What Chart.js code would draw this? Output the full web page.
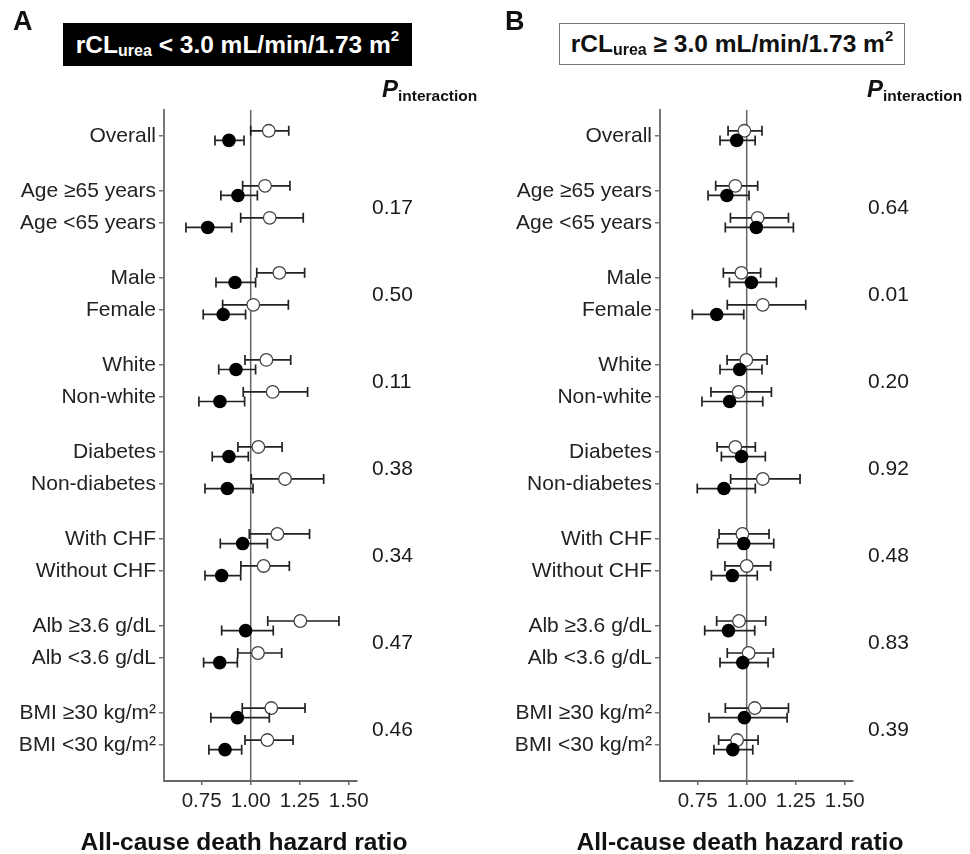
<!DOCTYPE html>
<html>
<head>
<meta charset="utf-8">
<script src="https://cdn.jsdelivr.net/npm/chart.js@4.4.1/dist/chart.umd.min.js"></script>
<style>
  html, body { margin:0; padding:0; background:#fff; }
  body { width:970px; height:854px; position:relative; overflow:hidden; font-family:"Liberation Sans", Arial, sans-serif; color:#111; }
  canvas { position:absolute; top:0; }
  .abs { position:absolute; white-space:nowrap; }
  .panel { font-weight:bold; font-size:27px; line-height:27px; }
  .box { position:absolute; display:flex; align-items:center; justify-content:center; font-weight:bold; font-size:24.5px; box-sizing:border-box; }
  .box sub { font-size:16px; vertical-align:baseline; position:relative; top:6px; }
  .box sup { font-size:15px; vertical-align:baseline; position:relative; top:-9px; }
  .pint { font-weight:bold; font-size:24px; line-height:24px; color:#111; }
  .pint i { font-style:italic; }
  .pint span { font-size:15.5px; position:relative; top:4px; }
  .xt { font-weight:bold; font-size:24.5px; line-height:24px; text-align:center; width:360px; color:#111; }
</style>
</head>
<body>
<canvas id="cA" width="474" height="854" style="left:0"></canvas>
<canvas id="cB" width="474" height="854" style="left:496px"></canvas>

<div class="abs panel" style="left:13px; top:8px;">A</div>
<div class="abs panel" style="left:505px; top:8px;">B</div>
<div class="box" style="left:63px; top:23px; width:349px; height:43px; background:#000; color:#fff;">rCL<sub>urea</sub>&nbsp;&lt; 3.0 mL/min/1.73 m<sup>2</sup></div>
<div class="box" style="left:559px; top:23px; width:346px; height:42px; background:#fff; color:#111; border:1.5px solid #777;">rCL<sub>urea</sub>&nbsp;≥ 3.0 mL/min/1.73 m<sup>2</sup></div>
<div class="abs pint" style="left:382px; top:77px;"><i>P</i><span>interaction</span></div>
<div class="abs pint" style="left:867px; top:77px;"><i>P</i><span>interaction</span></div>
<div class="abs xt" style="left:64px; top:830px;">All-cause death hazard ratio</div>
<div class="abs xt" style="left:560px; top:830px;">All-cause death hazard ratio</div>

<script>
// ---------- data ----------
const rowLabels = ["Overall","Age ≥65 years","Age <65 years","Male","Female","White","Non-white",
  "Diabetes","Non-diabetes","With CHF","Without CHF","Alb ≥3.6 g/dL","Alb <3.6 g/dL","BMI ≥30 kg/m²","BMI <30 kg/m²"];
const rowGroup = [0,1,1,2,2,3,3,4,4,5,5,6,6,7,7];
const xTicks = [0.75, 1.00, 1.25, 1.50];

const pInteractionA = ["0.17","0.50","0.11","0.38","0.34","0.47","0.46"];
const pInteractionB = ["0.64","0.01","0.20","0.92","0.48","0.83","0.39"];

// Panel A (rCLurea < 3.0)
const aFilledHR = [0.889,0.935,0.781,0.920,0.860,0.925,0.843,0.889,0.881,0.959,0.852,0.974,0.842,0.932,0.869];
const aFilledLo = [0.818,0.848,0.670,0.823,0.758,0.837,0.736,0.804,0.767,0.845,0.767,0.852,0.760,0.797,0.787];
const aFilledHi = [0.966,1.034,0.903,1.025,0.974,1.025,0.969,0.988,1.012,1.085,0.949,1.115,0.932,1.095,0.954];
const aOpenHR   = [1.092,1.073,1.097,1.146,1.013,1.080,1.112,1.039,1.175,1.136,1.066,1.253,1.037,1.105,1.085];
const aOpenLo   = [1.000,0.959,0.949,1.031,0.857,0.971,0.962,0.935,1.003,0.993,0.950,1.087,0.934,0.957,0.971];
const aOpenHi   = [1.194,1.200,1.268,1.275,1.192,1.204,1.290,1.160,1.372,1.300,1.197,1.450,1.158,1.277,1.216];

// Panel B (rCLurea >= 3.0)
const bFilledHR = [0.949,0.899,1.049,1.024,0.847,0.964,0.913,0.974,0.884,0.985,0.927,0.907,0.980,0.988,0.929];
const bFilledLo = [0.864,0.803,0.891,0.912,0.723,0.864,0.772,0.871,0.748,0.852,0.820,0.786,0.864,0.808,0.833];
const bFilledHi = [1.043,1.012,1.238,1.151,0.985,1.078,1.082,1.095,1.044,1.138,1.054,1.041,1.109,1.206,1.031];
const bOpenHR   = [0.988,0.942,1.056,0.973,1.082,0.998,0.959,0.942,1.082,0.978,1.000,0.961,1.010,1.041,0.951];
const bOpenLo   = [0.905,0.842,0.917,0.881,0.901,0.900,0.818,0.849,0.918,0.859,0.889,0.847,0.901,0.891,0.857];
const bOpenHi   = [1.078,1.056,1.213,1.071,1.301,1.104,1.126,1.044,1.272,1.114,1.122,1.097,1.136,1.213,1.058];

// ---------- layout helpers ----------
const FONT = '"Liberation Sans", Arial, sans-serif';
const GROUP_GAP = 0.72;
const rowY = rowLabels.map((_, i) => i + rowGroup[i] * GROUP_GAP);
const OPEN_OFF = -0.16, FILLED_OFF = 0.14;

function pts(hr, lo, hi, off) {
  return hr.map((v, i) => ({ x: v, y: rowY[i] + off, lo: lo[i], hi: hi[i] }));
}

const errorBars = {
  id: 'errorBars',
  beforeDatasetDraw(chart, args) {
    const ds = chart.data.datasets[args.index];
    if (!ds.errorBars) return;
    const { ctx, scales: { x, y } } = chart;
    ctx.save();
    ctx.strokeStyle = '#222';
    ctx.lineWidth = 1.7;
    ds.data.forEach(p => {
      const py = y.getPixelForValue(p.y);
      const x1 = x.getPixelForValue(p.lo), x2 = x.getPixelForValue(p.hi);
      ctx.beginPath();
      ctx.moveTo(x1, py); ctx.lineTo(x2, py);
      ctx.moveTo(x1, py - 5); ctx.lineTo(x1, py + 5);
      ctx.moveTo(x2, py - 5); ctx.lineTo(x2, py + 5);
      ctx.stroke();
    });
    ctx.restore();
  }
};

const pValues = {
  id: 'pValues',
  afterDraw(chart, args, opts) {
    const { ctx, chartArea, scales: { y } } = chart;
    ctx.save();
    ctx.font = '21px ' + FONT;
    ctx.fillStyle = '#1a1a1a';
    ctx.textAlign = 'left';
    ctx.textBaseline = 'middle';
    opts.values.forEach((t, g) => {
      const idx = rowGroup.map((gg, i) => gg === g + 1 ? i : -1).filter(i => i >= 0);
      const py = (y.getPixelForValue(rowY[idx[0]]) + y.getPixelForValue(rowY[idx[1]])) / 2;
      ctx.fillText(t, chartArea.right + 15, py + 1);
    });
    ctx.restore();
  }
};

function makeChart(id, fHR, fLo, fHi, oHR, oLo, oHi, pv) {
  const yMin = -0.81, yMax = rowY[rowY.length - 1] + 1.12;
  return new Chart(document.getElementById(id), {
    type: 'scatter',
    data: {
      datasets: [
        { type: 'line', data: [{ x: 1, y: yMin }, { x: 1, y: yMax }], borderColor: '#666', borderWidth: 1.5,
          pointRadius: 0, order: 5 },
        { data: pts(oHR, oLo, oHi, OPEN_OFF), errorBars: true, pointRadius: 6.3, pointBackgroundColor: '#fff',
          pointBorderColor: '#444', pointBorderWidth: 1.3, order: 2 },
        { data: pts(fHR, fLo, fHi, FILLED_OFF), errorBars: true, pointRadius: 6.8, pointBackgroundColor: '#000',
          pointBorderColor: '#000', pointBorderWidth: 0, order: 1 }
      ]
    },
    options: {
      responsive: false, animation: false, devicePixelRatio: 1,
      layout: { padding: { top: 110, right: 117, bottom: 0, left: 0 } },
      plugins: { legend: { display: false }, tooltip: { enabled: false }, pValues: { values: pv } },
      scales: {
        x: {
          type: 'linear', min: 0.558, max: 1.542,
          afterBuildTicks: s => { s.ticks = xTicks.map(v => ({ value: v })); },
          afterFit: s => { s.height = 73; },
          ticks: { font: { family: FONT, size: 20.5 }, color: '#222', padding: 4,
                   callback: v => Number(v).toFixed(2) },
          grid: { drawOnChartArea: false, drawTicks: true, tickLength: 4, color: '#666', lineWidth: 1.5 },
          border: { display: true, color: '#666', width: 2 }
        },
        y: {
          type: 'linear', reverse: true, min: yMin, max: yMax,
          afterBuildTicks: s => { s.ticks = rowY.map(v => ({ value: v })); },
          afterFit: s => { s.width = 164; },
          ticks: { autoSkip: false, font: { family: FONT, size: 21 }, color: '#222', padding: 3,
                   callback: (v, i) => rowLabels[i] },
          grid: { drawOnChartArea: false, drawTicks: true, tickLength: 5, color: '#777', lineWidth: 1.5 },
          border: { display: true, color: '#777', width: 2 }
        }
      }
    },
    plugins: [errorBars, pValues]
  });
}

makeChart('cA', aFilledHR, aFilledLo, aFilledHi, aOpenHR, aOpenLo, aOpenHi, pInteractionA);
makeChart('cB', bFilledHR, bFilledLo, bFilledHi, bOpenHR, bOpenLo, bOpenHi, pInteractionB);
</script>
</body>
</html>
